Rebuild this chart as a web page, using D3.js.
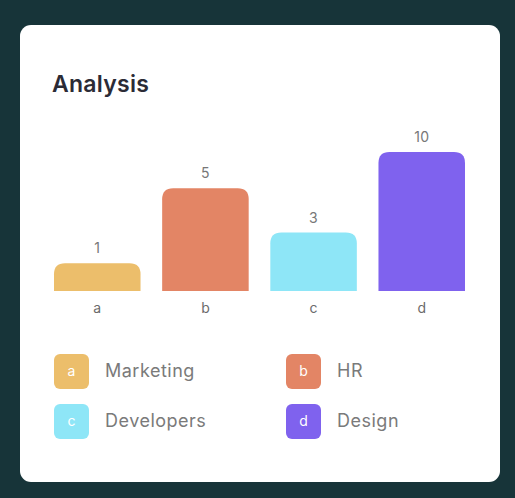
<html>
<head>
<script src="https://d3js.org/d3.v7.min.js"></script>
<style>
  body { margin: 0; background: #173439; }
  svg { display: block; font-family: Inter, "Noto Sans", sans-serif; }
</style>
</head>
<body>
<svg id="chart" width="515" height="498"></svg>
<script>
// chart data
var keys = ["a", "b", "c", "d"];
var names = ["Marketing", "HR", "Developers", "Design"];
var values = [1, 5, 3, 10];
// bar heights as drawn (percent of the tallest bar)
var barLevel = [20, 74, 42, 100];
var colors = ["#ecbe6b", "#e38565", "#8ee6f7", "#7f62ee"];

var svg = d3.select("#chart");

// card
svg.append("rect")
  .attr("x", 20).attr("y", 25)
  .attr("width", 480).attr("height", 457)
  .attr("rx", 11)
  .attr("fill", "#ffffff");

svg.append("text")
  .attr("x", 52).attr("y", 92)
  .attr("font-size", 23)
  .attr("font-weight", 600)
  .attr("letter-spacing", 0.25)
  .attr("fill", "#2b2b36")
  .text("Analysis");

var x = d3.scaleBand().domain(keys).range([54, 465]).paddingInner(0.2).paddingOuter(0);
var y = d3.scaleLinear().domain([0, 100]).range([291, 152]);

// top-rounded bar
function barPath(x0, y0, w, h, r) {
  r = Math.min(r, h, w / 2);
  return "M" + x0 + "," + (y0 + h) +
    "V" + (y0 + r) +
    "Q" + x0 + "," + y0 + " " + (x0 + r) + "," + y0 +
    "H" + (x0 + w - r) +
    "Q" + (x0 + w) + "," + y0 + " " + (x0 + w) + "," + (y0 + r) +
    "V" + (y0 + h) + "Z";
}

var data = keys.map(function (k, i) {
  return { key: k, name: names[i], value: values[i], level: barLevel[i], color: colors[i] };
});

svg.append("g").selectAll("path")
  .data(data)
  .enter().append("path")
  .attr("d", function (d) {
    return barPath(x(d.key), y(d.level), x.bandwidth(), y(0) - y(d.level), 11);
  })
  .attr("fill", function (d) { return d.color; });

svg.append("g").selectAll("text")
  .data(data)
  .enter().append("text")
  .attr("x", function (d) { return x(d.key) + x.bandwidth() / 2; })
  .attr("y", function (d) { return y(d.level) - 10; })
  .attr("text-anchor", "middle")
  .attr("font-size", 14)
  .attr("letter-spacing", 0.3)
  .attr("fill", "#777777")
  .text(function (d) { return d.value; });

// category axis, no line/ticks
var xAxis = svg.append("g")
  .attr("transform", "translate(0," + y(0) + ")")
  .call(d3.axisBottom(x).tickSize(0).tickPadding(12));
xAxis.select(".domain").remove();
xAxis.selectAll("text")
  .attr("font-size", 14)
  .attr("font-family", "Inter, 'Noto Sans', sans-serif")
  .attr("fill", "#6b6b6b");

// legend
var legendX = [54, 286];
var legendY = [354, 404];
var leg = svg.append("g").selectAll("g")
  .data(data)
  .enter().append("g")
  .attr("transform", function (d, i) {
    return "translate(" + legendX[i % 2] + "," + legendY[Math.floor(i / 2)] + ")";
  });

leg.append("rect")
  .attr("width", 35).attr("height", 35)
  .attr("rx", 6)
  .attr("fill", function (d) { return d.color; });

leg.append("text")
  .attr("x", 17.5).attr("y", 18)
  .attr("text-anchor", "middle")
  .attr("dominant-baseline", "middle")
  .attr("font-size", 14)
  .attr("fill", "#ffffff")
  .text(function (d) { return d.key; });

leg.append("text")
  .attr("x", 51).attr("y", 18.5)
  .attr("dominant-baseline", "middle")
  .attr("font-size", 18)
  .attr("letter-spacing", 0.5)
  .attr("fill", "#7a7a7a")
  .text(function (d) { return d.name; });
</script>
</body>
</html>
